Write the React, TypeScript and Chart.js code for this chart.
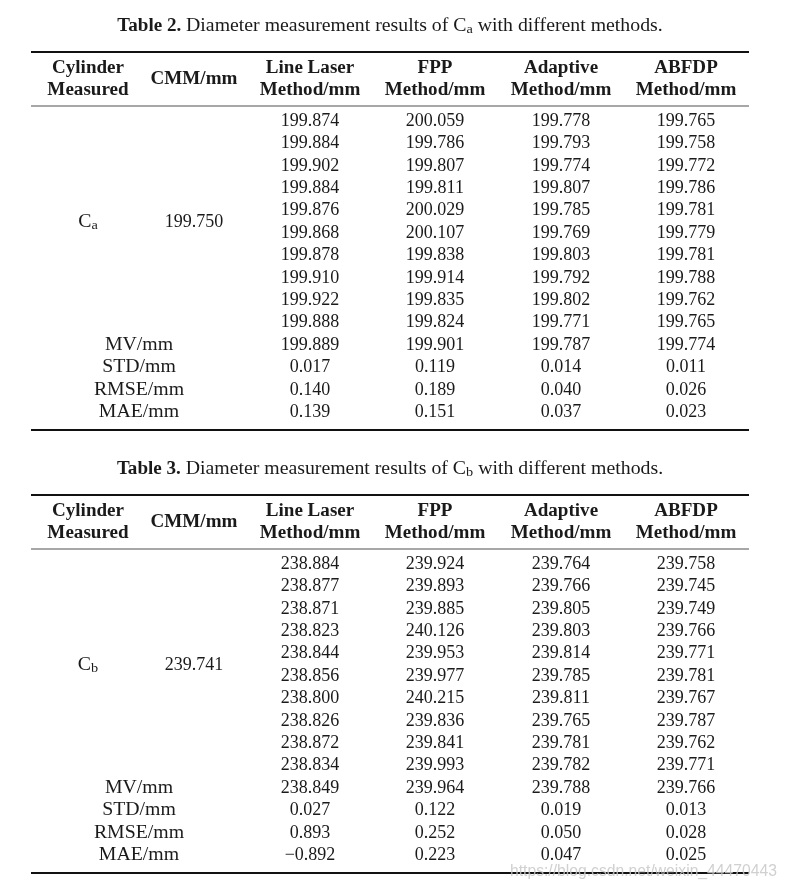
import React, { useEffect, useRef } from "react";
import { Chart, registerables } from "chart.js";

Chart.register(...registerables);

// ---------- DATA ----------
const headerRow1 = ["Cylinder", "CMM/mm", "Line Laser", "FPP", "Adaptive", "ABFDP"];
const headerRow2 = ["Measured", "", "Method/mm", "Method/mm", "Method/mm", "Method/mm"];
const statLabels = ["MV/mm", "STD/mm", "RMSE/mm", "MAE/mm"];

const caTitleNum = "Table 2.";
const caTitleText = "Diameter measurement results of C";
const caSub = "a";
const caCMM = 199.75;
const caLineLaser = [199.874, 199.884, 199.902, 199.884, 199.876, 199.868, 199.878, 199.91, 199.922, 199.888];
const caFPP = [200.059, 199.786, 199.807, 199.811, 200.029, 200.107, 199.838, 199.914, 199.835, 199.824];
const caAdaptive = [199.778, 199.793, 199.774, 199.807, 199.785, 199.769, 199.803, 199.792, 199.802, 199.771];
const caABFDP = [199.765, 199.758, 199.772, 199.786, 199.781, 199.779, 199.781, 199.788, 199.762, 199.765];
const caMV = [199.889, 199.901, 199.787, 199.774];
const caSTD = [0.017, 0.119, 0.014, 0.011];
const caRMSE = [0.14, 0.189, 0.04, 0.026];
const caMAE = [0.139, 0.151, 0.037, 0.023];

const cbTitleNum = "Table 3.";
const cbTitleText = "Diameter measurement results of C";
const cbSub = "b";
const cbCMM = 239.741;
const cbLineLaser = [238.884, 238.877, 238.871, 238.823, 238.844, 238.856, 238.8, 238.826, 238.872, 238.834];
const cbFPP = [239.924, 239.893, 239.885, 240.126, 239.953, 239.977, 240.215, 239.836, 239.841, 239.993];
const cbAdaptive = [239.764, 239.766, 239.805, 239.803, 239.814, 239.785, 239.811, 239.765, 239.781, 239.782];
const cbABFDP = [239.758, 239.745, 239.749, 239.766, 239.771, 239.781, 239.767, 239.787, 239.762, 239.771];
const cbMV = [238.849, 239.964, 239.788, 239.766];
const cbSTD = [0.027, 0.122, 0.019, 0.013];
const cbRMSE = [0.893, 0.252, 0.05, 0.028];
const cbMAE = [-0.892, 0.223, 0.047, 0.025];

const titleTail = " with different methods.";
const watermark = "https://blog.csdn.net/weixin_44470443";

// ---------- LAYOUT ----------
const W = 790;
const H = 889;
const tableTops = [52, 495];
const colX = [88, 194, 310, 435, 561, 686];
const statLabelX = 139;
const ruleLeft = 31;
const ruleRight = 749;
const rowStep = 22.4;
const FONT = "'Liberation Serif', 'DejaVu Serif', serif";

const fmt = (v: number) => v.toFixed(3).replace("-", "\u2212");

const tables = [
  {
    titleNum: caTitleNum, titleText: caTitleText, sub: caSub, cmm: caCMM,
    cols: [caLineLaser, caFPP, caAdaptive, caABFDP],
    stats: [caMV, caSTD, caRMSE, caMAE],
  },
  {
    titleNum: cbTitleNum, titleText: cbTitleText, sub: cbSub, cmm: cbCMM,
    cols: [cbLineLaser, cbFPP, cbAdaptive, cbABFDP],
    stats: [cbMV, cbSTD, cbRMSE, cbMAE],
  },
];

const SX_TEXT = 1.1;
const SX_BOLD = 1.06;
const SX_NUM = 1.0;
const INK = "#1a1a1a";

function text(ctx: CanvasRenderingContext2D, s: string, x: number, y: number, font: string, sx: number, align: CanvasTextAlign = "center", color = INK) {
  ctx.save();
  ctx.font = font;
  ctx.fillStyle = color;
  ctx.textBaseline = "middle";
  ctx.textAlign = align;
  ctx.translate(x, y);
  ctx.scale(sx, 1);
  ctx.fillText(s, 0, 0);
  ctx.restore();
}
function measure(ctx: CanvasRenderingContext2D, s: string, font: string, sx: number) {
  ctx.save();
  ctx.font = font;
  const w = ctx.measureText(s).width * sx;
  ctx.restore();
  return w;
}

const tablePlugin = {
  id: "tablePlugin",
  afterDraw(chart: any) {
    const ctx: CanvasRenderingContext2D = chart.ctx;
    const xs = chart.scales.x;
    const ys = chart.scales.y;
    const px = (v: number) => xs.getPixelForValue(v);
    const py = (v: number) => ys.getPixelForValue(v);
    const reg = `18px ${FONT}`;
    const bold = `bold 18px ${FONT}`;
    const small = `13px ${FONT}`;

    tables.forEach((t, ti) => {
      const top = tableTops[ti];
      // title
      const head = t.titleNum + " ";
      const w1 = measure(ctx, head, bold, SX_BOLD);
      const w2 = measure(ctx, t.titleText, reg, SX_TEXT);
      const w3 = measure(ctx, t.sub, small, SX_TEXT);
      const w4 = measure(ctx, titleTail, reg, SX_TEXT);
      const total = w1 + w2 + w3 + w4;
      let x = px(390) - total / 2;
      const ty = py(top - 26);
      text(ctx, head, x, ty, bold, SX_BOLD, "left");
      x += w1;
      text(ctx, t.titleText, x, ty, reg, SX_TEXT, "left");
      x += w2;
      text(ctx, t.sub, x, ty + 4, small, SX_TEXT, "left");
      x += w3;
      text(ctx, titleTail, x, ty, reg, SX_TEXT, "left");

      // rules
      ctx.save();
      ctx.strokeStyle = "#111";
      ctx.lineWidth = 2;
      ctx.beginPath();
      ctx.moveTo(px(ruleLeft), py(top));
      ctx.lineTo(px(ruleRight), py(top));
      ctx.moveTo(px(ruleLeft), py(top + 378));
      ctx.lineTo(px(ruleRight), py(top + 378));
      ctx.stroke();
      ctx.strokeStyle = "#8a8a8a";
      ctx.lineWidth = 1.3;
      ctx.beginPath();
      ctx.moveTo(px(ruleLeft), py(top + 54));
      ctx.lineTo(px(ruleRight), py(top + 54));
      ctx.stroke();
      ctx.restore();

      // header
      headerRow1.forEach((h, ci) => {
        if (headerRow2[ci]) {
          text(ctx, h, px(colX[ci]), py(top + 16), bold, SX_BOLD);
          text(ctx, headerRow2[ci], px(colX[ci]), py(top + 38), bold, SX_BOLD);
        } else {
          text(ctx, h, px(colX[ci]), py(top + 27), bold, SX_BOLD);
        }
      });

      // data rows
      const rowY = (i: number) => py(top + 69 + i * rowStep);
      t.cols.forEach((col, ci) => {
        col.forEach((v, ri) => text(ctx, fmt(v), px(colX[ci + 2]), rowY(ri), reg, SX_NUM));
      });
      // merged cells
      const midY = rowY(4.5);
      const cw = measure(ctx, "C", reg, SX_TEXT);
      const sw = measure(ctx, t.sub, small, SX_TEXT);
      const cx = px(colX[0]) - (cw + sw) / 2;
      text(ctx, "C", cx, midY, reg, SX_TEXT, "left");
      text(ctx, t.sub, cx + cw, midY + 4, small, SX_TEXT, "left");
      text(ctx, fmt(t.cmm), px(colX[1]), midY, reg, SX_NUM);

      // stats
      t.stats.forEach((vals, si) => {
        const y = rowY(10 + si);
        text(ctx, statLabels[si], px(statLabelX), y, reg, SX_TEXT);
        vals.forEach((v, ci) => text(ctx, fmt(v), px(colX[ci + 2]), y, reg, SX_NUM));
      });
    });

    // watermark
    ctx.save();
    ctx.font = "15.7px 'Liberation Sans', Arial, sans-serif";
    ctx.fillStyle = "rgba(200,200,200,0.85)";
    ctx.textBaseline = "middle";
    ctx.textAlign = "left";
    ctx.fillText(watermark, px(510), py(872));
    ctx.restore();
  },
};

export default function App() {
  const ref = useRef<HTMLCanvasElement | null>(null);
  useEffect(() => {
    if (!ref.current) return;
    const chart = new Chart(ref.current, {
      type: "scatter",
      data: { datasets: [{ data: [], pointRadius: 0 }] },
      options: {
        animation: false,
        responsive: false,
        devicePixelRatio: 1,
        layout: { padding: 0 },
        plugins: { legend: { display: false }, tooltip: { enabled: false } },
        scales: {
          x: { type: "linear", min: 0, max: W, display: false },
          y: { type: "linear", min: 0, max: H, reverse: true, display: false },
        },
      },
      plugins: [tablePlugin],
    });
    return () => chart.destroy();
  }, []);
  return (
    <div style={{ position: "absolute", left: 0, top: 0, width: W, height: H, background: "#fff" }}>
      <canvas ref={ref} width={W} height={H} style={{ display: "block" }} />
    </div>
  );
}
